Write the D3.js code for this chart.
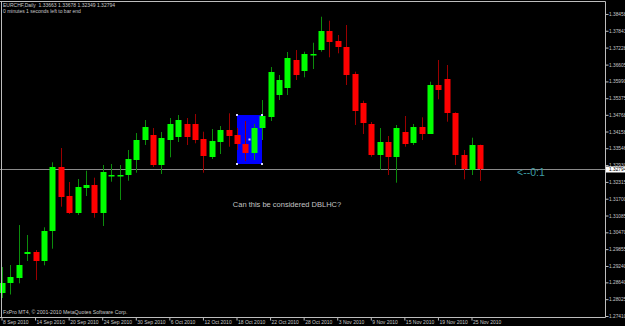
<!DOCTYPE html>
<html>
<head>
<meta charset="utf-8">
<script src="https://cdn.jsdelivr.net/npm/d3@7"></script>
<style>
body{margin:0;background:#000;}
svg{display:block;}
</style>
</head>
<body>
<svg id="chart" width="625" height="326"></svg>
<script>
// EURCHF daily bars, 8 Sep - 26 Nov 2010
const dates = [
"2010-09-08","2010-09-09","2010-09-10","2010-09-13","2010-09-14","2010-09-15","2010-09-16","2010-09-17","2010-09-20","2010-09-21",
"2010-09-22","2010-09-23","2010-09-24","2010-09-27","2010-09-28","2010-09-29","2010-09-30","2010-10-01","2010-10-04","2010-10-05",
"2010-10-06","2010-10-07","2010-10-08","2010-10-11","2010-10-12","2010-10-13","2010-10-14","2010-10-15","2010-10-18","2010-10-19",
"2010-10-20","2010-10-21","2010-10-22","2010-10-25","2010-10-26","2010-10-27","2010-10-28","2010-10-29","2010-11-01","2010-11-02",
"2010-11-03","2010-11-04","2010-11-05","2010-11-08","2010-11-09","2010-11-10","2010-11-11","2010-11-12","2010-11-15","2010-11-16",
"2010-11-17","2010-11-18","2010-11-19","2010-11-22","2010-11-23","2010-11-24","2010-11-25","2010-11-26"];

const opens = [
1.28251,1.28628,1.28811,1.29667,1.29751,1.29422,1.30508,1.32849,1.31799,1.31188,
1.32117,1.32202,1.31188,1.32549,1.32549,1.32542,1.33116,1.33847,1.34030,1.32933,
1.33847,1.33957,1.34420,1.34433,1.33873,1.33226,1.33763,1.34213,1.34019,1.33701,
1.33361,1.34275,1.34689,1.35493,1.35749,1.36774,1.36382,1.36986,1.37150,1.37834,
1.37457,1.37249,1.36261,1.35201,1.34422,1.33324,1.33785,1.33237,1.34151,1.33727,
1.34323,1.34078,1.35859,1.36079,1.34824,1.33299,1.32750,1.33663];

const highs = [
1.29202,1.29275,1.30738,1.30373,1.29824,1.30654,1.33032,1.33555,1.32311,1.32421,
1.32725,1.32469,1.32933,1.32970,1.32933,1.33482,1.34103,1.34579,1.34286,1.34140,
1.34652,1.34762,1.34652,1.34798,1.34151,1.34250,1.34359,1.34824,1.34286,1.34542,
1.34433,1.35310,1.36517,1.36225,1.37066,1.37139,1.37077,1.37406,1.38357,1.38211,
1.37688,1.38054,1.36346,1.35285,1.34506,1.34286,1.33994,1.34396,1.34725,1.34433,
1.34678,1.35980,1.36774,1.36591,1.34861,1.33482,1.33932,1.33678];

const lows = [
1.28068,1.28196,1.28606,1.29422,1.28727,1.29264,1.29872,1.31408,1.31141,1.31104,
1.31799,1.31005,1.30702,1.32322,1.31653,1.32359,1.32651,1.33665,1.32860,1.32604,
1.33215,1.33774,1.33665,1.33727,1.32651,1.33152,1.33335,1.33602,1.33482,1.33079,
1.33116,1.33847,1.34542,1.35310,1.35493,1.36042,1.36141,1.36444,1.37077,1.36872,
1.37019,1.35859,1.34396,1.34067,1.33237,1.32750,1.32567,1.32286,1.33602,1.33665,
1.33847,1.34067,1.35336,1.34517,1.32933,1.32410,1.32567,1.32349];

const closes = [
1.28617,1.28837,1.29275,1.29751,1.29422,1.30519,1.32849,1.31737,1.31188,1.32128,
1.32212,1.31188,1.32677,1.32560,1.32563,1.33141,1.33847,1.34323,1.32933,1.33921,
1.34420,1.34579,1.33957,1.33847,1.33237,1.33811,1.34213,1.33994,1.33701,1.33383,
1.34286,1.34725,1.36335,1.36042,1.36847,1.36225,1.36993,1.36993,1.37834,1.37443,
1.37223,1.36225,1.34919,1.34458,1.33299,1.33785,1.33237,1.34297,1.33727,1.34323,
1.34078,1.35859,1.35676,1.34824,1.33273,1.32787,1.33665,1.32794];

const priceTicks = [1.38458,1.37843,1.37228,1.36605,1.35990,1.35375,1.34768,1.34158,1.33546,1.32930,
                    1.32315,1.31700,1.31085,1.30470,1.29855,1.29240,1.28640,1.28025,1.27410];
const dateTicks = ["2010-09-08","2010-09-14","2010-09-20","2010-09-24","2010-09-30","2010-10-06","2010-10-12",
                   "2010-10-18","2010-10-22","2010-10-28","2010-11-03","2010-11-09","2010-11-15","2010-11-19","2010-11-25"];

// rectangle object and text objects placed on the chart
const boxStart = "2010-10-18", boxEnd = "2010-10-21", boxTop = 1.34762, boxBottom = 1.32981;
const noteText = "Can this be considered DBLHC?", noteDate = "2010-10-26", notePrice = 1.31507;
const arrowText = "<--0:1";
const symbolName = "EURCHF,Daily";
const timerText = "0 minutes 1 seconds left to bar end";
const copyright = "FxPro MT4, \u00a9 2001-2010 MetaQuotes Software Corp.";

let svg = d3.select("svg#chart");
let plotRight = 605, plotTop = 1, plotBottom = 317;
let step = 8.393;
let labelColor = "#c8c8c8";
let font = "Liberation Sans, Arial, sans-serif";

let bars = dates.map((d,i) => ({date:d, o:opens[i], h:highs[i], l:lows[i], c:closes[i]}));
let last = bars[bars.length-1];

let x = d3.scaleBand()
    .domain(dates)
    .range([2 - step/2, 2 - step/2 + step*dates.length]);
let cx = d => Math.round(x(d) + x.bandwidth()/2);

let y = d3.scaleLinear()
    .domain([1.27410, 1.38932])
    .range([316, 1]);

svg.append("rect").attr("width",625).attr("height",326).attr("fill","#000");

svg.append("clipPath").attr("id","plot")
    .append("rect").attr("x",0).attr("y",plotTop).attr("width",plotRight).attr("height",plotBottom-plotTop);

let plot = svg.append("g").attr("clip-path","url(#plot)");

// blue rectangle object (drawn as background)
let bx1 = cx(boxStart), bx2 = cx(boxEnd), by1 = Math.round(y(boxTop)), by2 = Math.round(y(boxBottom));
plot.append("rect")
    .attr("x",bx1).attr("y",by1)
    .attr("width",bx2-bx1).attr("height",by2-by1)
    .attr("fill","#0000ff");

// bid line
let bidY = Math.round(y(last.c)) + 0.5;
plot.append("line")
    .attr("x1",0).attr("x2",plotRight)
    .attr("y1",bidY).attr("y2",bidY)
    .attr("stroke","#8a8a8a").attr("stroke-width",1);

// wicks
plot.selectAll("line.wick")
    .data(bars)
    .join("line")
    .attr("class","wick")
    .attr("x1",d => cx(d.date) + 0.5)
    .attr("x2",d => cx(d.date) + 0.5)
    .attr("y1",d => y(d.h))
    .attr("y2",d => y(d.l))
    .attr("stroke",d => d.c >= d.o ? "#0c8c0c" : "#9a0000")
    .attr("stroke-width",1);

// bodies
plot.selectAll("rect.body")
    .data(bars)
    .join("rect")
    .attr("class","body")
    .attr("x",d => cx(d.date) - 2.5)
    .attr("width",6)
    .attr("y",d => Math.round(y(Math.max(d.o,d.c))))
    .attr("height",d => Math.max(1.5, Math.round(Math.abs(y(d.o) - y(d.c)))))
    .attr("fill",d => d.c >= d.o ? "#00ff00" : "#ff0000");

// handles of the selected rectangle
let handles = [[bx1,by1],[bx2,by1],[bx1,by2],[bx2,by2],[(bx1+bx2)/2,(by1+by2)/2]];
svg.selectAll("rect.handle")
    .data(handles)
    .join("rect")
    .attr("class","handle")
    .attr("x",d => d[0]-1).attr("y",d => d[1]-1)
    .attr("width",2).attr("height",2)
    .attr("fill","#d8d8ff");

// frame
svg.append("path")
    .attr("d","M0,1.5H" + (plotRight+0.5) + "V" + (plotBottom+0.5) + "H0 M1.5,1V" + plotBottom)
    .attr("fill","none").attr("stroke","#bdbdbd").attr("stroke-width",1);

// price axis
let yAxis = d3.axisRight(y)
    .tickValues(priceTicks)
    .tickFormat(d => d.toFixed(5))
    .tickSize(3);

let gy = svg.append("g")
    .attr("transform","translate(" + (plotRight+0.5) + ",0)")
    .call(yAxis);
gy.select(".domain").remove();
gy.selectAll("line").attr("stroke","#bdbdbd");
gy.selectAll("text")
    .attr("x",3.5)
    .attr("fill",labelColor)
    .style("font-family",font)
    .style("font-size","4.8px");

// current price label
svg.append("rect")
    .attr("x",plotRight+1).attr("y",bidY-3)
    .attr("width",20).attr("height",6)
    .attr("fill","#ffffff");
svg.append("text")
    .attr("x",plotRight+4).attr("y",bidY)
    .attr("dy","0.34em")
    .attr("fill","#000")
    .style("font-family",font).style("font-size","4.8px")
    .text(last.c.toFixed(5));

// time axis
let parse = d3.timeParse("%Y-%m-%d");
let xAxis = d3.axisBottom(x)
    .tickValues(dateTicks)
    .tickFormat(d => d3.timeFormat("%-d %b %Y")(parse(d)))
    .tickSize(3);

let gx = svg.append("g")
    .attr("transform","translate(0," + (plotBottom+0.5) + ")")
    .call(xAxis);
gx.select(".domain").remove();
gx.selectAll("line").attr("stroke","#bdbdbd");
gx.selectAll("text")
    .attr("x",1)
    .attr("y",3.2)
    .attr("dy","0.71em")
    .attr("text-anchor","start")
    .attr("fill",labelColor)
    .style("font-family",font)
    .style("font-size","5px");

// header and footer
let header = symbolName + "  " + [last.o,last.h,last.l,last.c].map(v => v.toFixed(5)).join(" ");
svg.append("text").attr("x",3).attr("y",7.3)
    .attr("fill",labelColor).style("font-family",font).style("font-size","5px")
    .attr("xml:space","preserve").style("white-space","pre")
    .text(header);
svg.append("text").attr("x",3).attr("y",12.7)
    .attr("fill",labelColor).style("font-family",font).style("font-size","5px")
    .text(timerText);
svg.append("text").attr("x",3).attr("y",314.3)
    .attr("fill",labelColor).style("font-family",font).style("font-size","5.2px")
    .text(copyright);

// text objects
svg.append("text")
    .attr("x",cx(noteDate)).attr("y",y(notePrice))
    .attr("dy","0.35em")
    .attr("text-anchor","middle")
    .attr("fill","#c4c4c4")
    .style("font-family",font).style("font-size","7.5px")
    .text(noteText);

svg.append("text")
    .attr("x",cx(last.date) + 37).attr("y",y(last.c) + 4)
    .attr("dy","0.35em")
    .attr("fill","#3d9ea6")
    .style("font-family",font).style("font-size","10.5px")
    .text(arrowText);
</script>
</body>
</html>
